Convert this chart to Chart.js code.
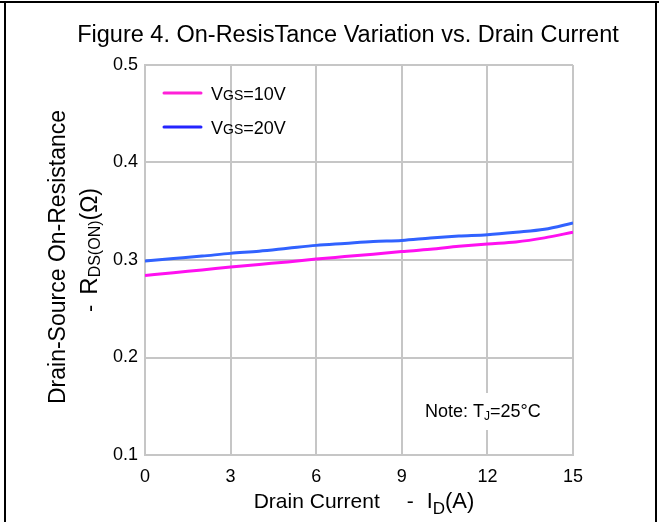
<!DOCTYPE html>
<html>
<head>
<meta charset="utf-8">
<script src="https://cdn.jsdelivr.net/npm/chart.js@4/dist/chart.umd.min.js"></script>
<style>
  html, body { margin: 0; padding: 0; background: #fff; }
  canvas { display: block; }
</style>
</head>
<body>
<canvas id="c" width="659" height="522"></canvas>
<script>
// ---- data ----
const currents = [0, 1, 2, 3, 4, 5, 6, 7, 8, 9, 10, 11, 12, 13, 14, 15];
const rdsVgs10 = [0.284, 0.287, 0.2898, 0.2928, 0.2955, 0.298, 0.301, 0.3035, 0.306, 0.3086, 0.311, 0.314, 0.3165, 0.3185, 0.3227, 0.3285];
const rdsVgs20 = [0.299, 0.3015, 0.304, 0.3068, 0.309, 0.312, 0.315, 0.317, 0.319, 0.320, 0.3225, 0.3245, 0.326, 0.3285, 0.3315, 0.338];
const xTickValues = [0, 3, 6, 9, 12, 15];
const yTickValues = [0.1, 0.2, 0.3, 0.4, 0.5];
const titleText = 'Figure 4. On-ResisTance Variation vs. Drain Current';

const FONT = '"Liberation Sans", Arial, sans-serif';
const MAGENTA = '#ff10f0';
const BLUE = '#3162ff';
const GRID = '#c6c6c6';

function richWidth(ctx, parts) {
  let w = 0;
  for (const p of parts) {
    if (p.gap) { w += p.gap; continue; }
    ctx.font = p.s + 'px ' + FONT;
    w += ctx.measureText(p.t).width;
  }
  return w;
}
function drawRich(ctx, x, y, parts, align) {
  const total = richWidth(ctx, parts);
  let cx = align === 'center' ? x - total / 2 : (align === 'right' ? x - total : x);
  ctx.textAlign = 'left';
  ctx.textBaseline = 'alphabetic';
  for (const p of parts) {
    if (p.gap) { cx += p.gap; continue; }
    ctx.font = p.s + 'px ' + FONT;
    ctx.fillText(p.t, cx, y + (p.dy || 0));
    cx += ctx.measureText(p.t).width;
  }
}

const decorPlugin = {
  id: 'decor',
  afterDraw(chart) {
    const ctx = chart.ctx;
    ctx.save();
    // frame
    ctx.fillStyle = '#000';
    ctx.fillRect(0, 1, 659, 2);
    ctx.fillRect(4, 1, 2, 521);
    ctx.fillRect(655, 1, 2, 521);

    // title
    ctx.fillStyle = '#000';
    drawRich(ctx, 348, 42, [{t: titleText, s: 23.5}], 'center');

    // x-axis title
    drawRich(ctx, 364, 508, [
      {t: 'Drain Current', s: 21}, {gap: 27}, {t: '-', s: 21}, {gap: 13},
      {t: 'I', s: 21.5}, {t: 'D', s: 17, dy: 6}, {t: '(A)', s: 22}
    ], 'center');

    // y-axis title (rotated)
    ctx.save();
    ctx.translate(65, 257);
    ctx.rotate(-Math.PI / 2);
    drawRich(ctx, 0, 0, [{t: 'Drain-Source On-Resistance', s: 23}], 'center');
    ctx.restore();
    ctx.save();
    ctx.translate(97, 250);
    ctx.rotate(-Math.PI / 2);
    drawRich(ctx, 0, 0, [
      {t: '-', s: 22}, {gap: 10}, {t: 'R', s: 24}, {t: 'DS(ON)', s: 16, dy: 3}, {t: '(Ω)', s: 23}
    ], 'center');
    ctx.restore();

    // legend
    const legend = [
      {color: '#ff20d8', y: 93, parts: [{t: 'V', s: 18}, {t: 'GS', s: 14}, {t: '=10V', s: 18}]},
      {color: '#2424ff', y: 127, parts: [{t: 'V', s: 18}, {t: 'GS', s: 14}, {t: '=20V', s: 18}]}
    ];
    for (const item of legend) {
      ctx.strokeStyle = item.color;
      ctx.lineWidth = 3;
      ctx.lineCap = 'round';
      ctx.beginPath();
      ctx.moveTo(164, item.y);
      ctx.lineTo(201, item.y);
      ctx.stroke();
      ctx.fillStyle = '#000';
      drawRich(ctx, 211, item.y + 6.5, item.parts, 'left');
    }

    // note
    ctx.fillStyle = '#fff';
    ctx.fillRect(418, 393, 134, 37);
    ctx.fillStyle = '#000';
    drawRich(ctx, 425, 416.5, [
      {t: 'Note: T', s: 18}, {t: 'J', s: 12, dy: 3}, {t: '=25°C', s: 18}
    ], 'left');
    ctx.restore();
  }
};

const toXY = (ys) => currents.map((x, i) => ({x: x, y: ys[i]}));

new Chart(document.getElementById('c'), {
  type: 'line',
  data: {
    datasets: [
      {label: 'VGS=10V', data: toXY(rdsVgs10), borderColor: MAGENTA, borderWidth: 3,
       pointRadius: 0, cubicInterpolationMode: 'monotone', fill: false},
      {label: 'VGS=20V', data: toXY(rdsVgs20), borderColor: BLUE, borderWidth: 3,
       pointRadius: 0, cubicInterpolationMode: 'monotone', fill: false}
    ]
  },
  options: {
    responsive: false,
    animation: false,
    devicePixelRatio: 1,
    layout: {padding: {left: 85, right: 86, top: 65, bottom: 27}},
    plugins: {legend: {display: false}, title: {display: false}, tooltip: {enabled: false}},
    scales: {
      x: {
        type: 'linear', min: 0, max: 15,
        afterBuildTicks: (s) => { s.ticks = xTickValues.map(v => ({value: v})); },
        afterFit: (s) => { s.height = 40; },
        grid: {color: GRID, lineWidth: 2, drawTicks: false},
        border: {display: true, color: GRID, width: 2},
        ticks: {color: '#000', font: {family: FONT, size: 18}, padding: 11, maxRotation: 0,
                callback: (v) => String(v)}
      },
      y: {
        type: 'linear', min: 0.1, max: 0.5,
        afterBuildTicks: (s) => { s.ticks = yTickValues.map(v => ({value: v})); },
        afterFit: (s) => { s.width = 60; },
        grid: {color: GRID, lineWidth: 2, drawTicks: false},
        border: {display: true, color: GRID, width: 2},
        ticks: {color: '#000', font: {family: FONT, size: 18}, padding: 7,
                callback: (v) => Number(v).toFixed(1)}
      }
    }
  },
  plugins: [decorPlugin]
});
</script>
</body>
</html>
